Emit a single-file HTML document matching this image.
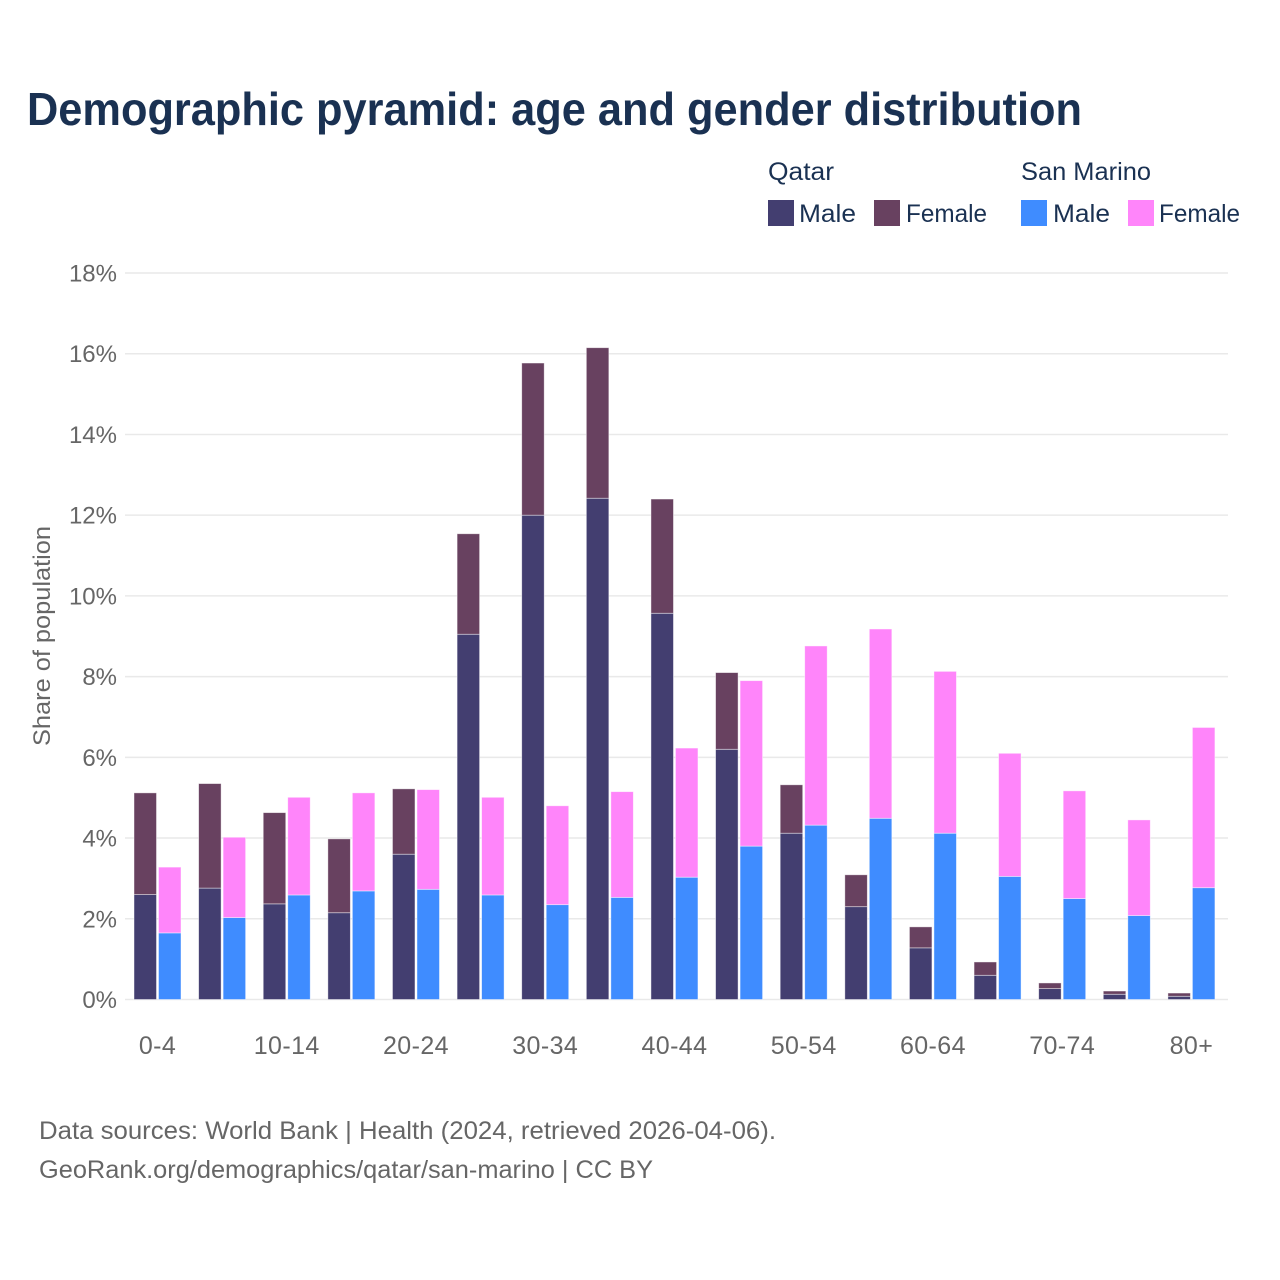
<!DOCTYPE html>
<html lang="en">
<head>
<meta charset="utf-8">
<title>Demographic pyramid: age and gender distribution</title>
<style>
html,body{margin:0;padding:0;background:#fff;}
svg{display:block;font-family:"Liberation Sans",sans-serif;}
</style>
</head>
<body>
<svg id="chart" width="1280" height="1280" viewBox="0 0 1280 1280" xmlns="http://www.w3.org/2000/svg">
  <rect width="1280" height="1280" fill="#ffffff"/>
  <text x="27" y="125" font-size="46" font-weight="700" fill="#1a3152" textLength="1055" lengthAdjust="spacingAndGlyphs">Demographic pyramid: age and gender distribution</text>

  <g font-size="25" fill="#1a3152">
    <text x="768" y="180" textLength="66" lengthAdjust="spacingAndGlyphs">Qatar</text>
    <text x="1021" y="180" textLength="130" lengthAdjust="spacingAndGlyphs">San Marino</text>
    <rect x="768" y="200" width="26" height="26" fill="#433e70"/>
    <text x="799" y="222" textLength="57" lengthAdjust="spacingAndGlyphs">Male</text>
    <rect x="874" y="200" width="26" height="26" fill="#684160"/>
    <text x="906" y="222" textLength="81" lengthAdjust="spacingAndGlyphs">Female</text>
    <rect x="1021" y="200" width="26" height="26" fill="#3f8cff"/>
    <text x="1053" y="222" textLength="57" lengthAdjust="spacingAndGlyphs">Male</text>
    <rect x="1128" y="200" width="26" height="26" fill="#ff85fa"/>
    <text x="1159" y="222" textLength="81" lengthAdjust="spacingAndGlyphs">Female</text>
  </g>

  <g id="grid"></g>
  <g id="bars"></g>
  <g id="yticks"></g>
  <g id="xticks"></g>

  <text transform="translate(50,746) rotate(-90)" font-size="24" fill="#666666" textLength="220" lengthAdjust="spacingAndGlyphs">Share of population</text>

  <text x="39" y="1139" font-size="25" fill="#666666" textLength="737" lengthAdjust="spacingAndGlyphs">Data sources: World Bank | Health (2024, retrieved 2026-04-06).</text>
  <text x="39" y="1178" font-size="25" fill="#666666" textLength="614" lengthAdjust="spacingAndGlyphs">GeoRank.org/demographics/qatar/san-marino | CC BY</text>
</svg>
<script>
const categories = ['0-4','5-9','10-14','15-19','20-24','25-29','30-34','35-39','40-44','45-49','50-54','55-59','60-64','65-69','70-74','75-79','80+'];
const qatarMale = [2.60,2.76,2.37,2.15,3.60,9.05,12.00,12.42,9.57,6.20,4.12,2.30,1.28,0.60,0.27,0.13,0.08];
const qatarFemale = [2.52,2.59,2.26,1.83,1.62,2.49,3.77,3.73,2.83,1.90,1.20,0.79,0.52,0.33,0.14,0.08,0.08];
const sanMarinoMale = [1.65,2.03,2.59,2.69,2.73,2.59,2.35,2.53,3.03,3.80,4.32,4.49,4.12,3.05,2.50,2.08,2.77];
const sanMarinoFemale = [1.63,1.99,2.42,2.43,2.47,2.42,2.45,2.62,3.20,4.10,4.44,4.69,4.01,3.05,2.67,2.37,3.97];
const yTickValues = [0,2,4,6,8,10,12,14,16,18];
const xTickEvery = 2;

const NS = 'http://www.w3.org/2000/svg';
const yScale = v => 999.5 - v * 40.36;
const xCenter = i => 157.5 + i * 64.62;
const BAR_W = 22.5;
const GAP = 2;

function make(tag, attrs, parent) {
  const el = document.createElementNS(NS, tag);
  for (const k in attrs) el.setAttribute(k, attrs[k]);
  parent.appendChild(el);
  return el;
}

const grid = document.getElementById('grid');
const yticks = document.getElementById('yticks');
yTickValues.forEach(v => {
  const line = make('line', {x1: 125, x2: 1228, y1: yScale(v), y2: yScale(v), stroke: '#e9e9e9', 'stroke-width': 1.5}, grid);
  
  
  const t = make('text', {x: 117, y: yScale(v) + 8.5, 'text-anchor': 'end', 'font-size': 24, fill: '#666666'}, yticks);
  t.textContent = v + '%';
  
  
});

const bars = document.getElementById('bars');
function drawBar(x, base, val, fill, name) {
  const top = yScale(base + val);
  const r = make('rect', {x: x, y: top, width: BAR_W, height: yScale(base) - top, fill: fill, stroke: '#ffffff', 'stroke-opacity': 0.55, 'stroke-width': 0.8}, bars);
  
  
}
categories.forEach((c, i) => {
  const left = xCenter(i) - BAR_W - GAP / 2;
  const right = xCenter(i) + GAP / 2;
  drawBar(left, 0, qatarMale[i], '#433e70', 'bar-qatar-male-' + c);
  drawBar(left, qatarMale[i], qatarFemale[i], '#684160', 'bar-qatar-female-' + c);
  drawBar(right, 0, sanMarinoMale[i], '#3f8cff', 'bar-san-marino-male-' + c);
  drawBar(right, sanMarinoMale[i], sanMarinoFemale[i], '#ff85fa', 'bar-san-marino-female-' + c);
});

const xticks = document.getElementById('xticks');
categories.forEach((c, i) => {
  if (i % xTickEvery !== 0) return;
  const t = make('text', {x: xCenter(i), y: 1054, 'text-anchor': 'middle', 'font-size': 25, 'letter-spacing': 0.4, fill: '#666666'}, xticks);
  t.textContent = c;
  
  
});
</script>
</body>
</html>
